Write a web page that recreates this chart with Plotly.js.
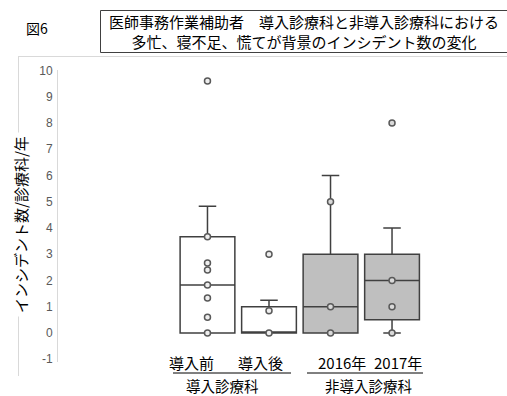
<!DOCTYPE html>
<html>
<head>
<meta charset="utf-8">
<script src="https://cdn.plot.ly/plotly-3.0.1.min.js"></script>
<style>html,body{margin:0;padding:0;background:#fff;}#chart{width:507px;height:396px;}</style>
</head>
<body>
<div id="chart"></div>
<script>
// ---- data ----
const categories = ['導入前', '導入後', '2016年', '2017年'];
const groupLabels = ['導入診療科', '非導入診療科'];
const q1 = [0, 0, 0, 0.5];
const median = [1.83, 0, 1, 2];
const q3 = [3.67, 1, 3, 3];
const lowerFence = [0, 0, 0, 0];
const upperFence = [4.83, 1.25, 6, 4];
const pointsPre = [9.6, 3.67, 2.67, 2.4, 1.83, 1.33, 0.6, 0];
const pointsPost = [3, 0.85, 0];
const points2016 = [5, 1, 0];
const points2017 = [8, 2, 1, 0];
const yTicks = [-1, 0, 1, 2, 3, 4, 5, 6, 7, 8, 9, 10];

// ---- layout helpers (pixel -> paper) ----
const W = 507, H = 396;
const mL = 58, mR = 27, mT = 70, mB = 34;
const pw = W - mL - mR, ph = H - mT - mB;
const px = x => (x - mL) / pw;
const py = y => (H - mB - y) / ph;

const JP = "'Noto Sans CJK JP', 'Noto Sans', sans-serif";
const NUM = "'Liberation Sans', Arial, sans-serif";

const boxLine = {color: '#404040', width: 1.5};
const markerStyle = fill => ({symbol: 'circle', size: 6, color: fill, line: {color: '#595959', width: 1.5}});

const traces = [
  {
    type: 'box', x: categories.slice(0, 2),
    q1: q1.slice(0, 2), median: median.slice(0, 2), q3: q3.slice(0, 2),
    lowerfence: lowerFence.slice(0, 2), upperfence: upperFence.slice(0, 2),
    fillcolor: '#ffffff', line: boxLine, width: 0.89, whiskerwidth: 0.32,
    boxpoints: false, showlegend: false, hoverinfo: 'skip'
  },
  {
    type: 'box', x: categories.slice(2, 4),
    q1: q1.slice(2, 4), median: median.slice(2, 4), q3: q3.slice(2, 4),
    lowerfence: lowerFence.slice(2, 4), upperfence: upperFence.slice(2, 4),
    fillcolor: '#bfbfbf', line: boxLine, width: 0.89, whiskerwidth: 0.32,
    boxpoints: false, showlegend: false, hoverinfo: 'skip'
  },
  {type: 'scatter', mode: 'markers', x: pointsPre.map(() => categories[0]), y: pointsPre,
   marker: markerStyle('#eeeeee'), showlegend: false, cliponaxis: false},
  {type: 'scatter', mode: 'markers', x: pointsPost.map(() => categories[1]), y: pointsPost,
   marker: markerStyle('#eeeeee'), showlegend: false, cliponaxis: false},
  {type: 'scatter', mode: 'markers', x: points2016.map(() => categories[2]), y: points2016,
   marker: markerStyle('#d9d9d9'), showlegend: false, cliponaxis: false},
  {type: 'scatter', mode: 'markers', x: points2017.map(() => categories[3]), y: points2017,
   marker: markerStyle('#d9d9d9'), showlegend: false, cliponaxis: false}
];

const catShift = [-16, -9, 11, 6];
const annotations = [
  {text: '図6', xref: 'paper', yref: 'paper', x: px(37), y: py(28), showarrow: false,
   font: {family: JP, size: 14, color: '#000'}, xanchor: 'center', yanchor: 'middle'},
  {text: '医師事務作業補助者　導入診療科と非導入診療科における<br>多忙、寝不足、慌てが背景のインシデント数の変化',
   xref: 'paper', yref: 'paper', x: px(304), y: py(32), showarrow: false,
   font: {family: JP, size: 15, color: '#000'}, xanchor: 'center', yanchor: 'middle', align: 'center'},
  {text: 'インシデント数/診療科/年', xref: 'paper', yref: 'paper', x: px(20), y: py(225),
   textangle: -90, showarrow: false, bgcolor: '#ffffff', borderpad: 3,
   font: {family: JP, size: 15, color: '#000'}, xanchor: 'center', yanchor: 'middle'}
];
categories.forEach((c, i) => annotations.push({
  text: c, xref: 'x', yref: 'paper', x: c, y: py(362), xshift: catShift[i], showarrow: false,
  font: {family: JP, size: 15, color: '#000'}, xanchor: 'center', yanchor: 'middle'
}));
annotations.push({text: groupLabels[0], xref: 'paper', yref: 'paper', x: px(222), y: py(386), showarrow: false,
  font: {family: JP, size: 14.5, color: '#000'}, xanchor: 'center', yanchor: 'middle', borderpad: 0});
annotations.push({text: groupLabels[1], xref: 'paper', yref: 'paper', x: px(368), y: py(386), showarrow: false,
  font: {family: JP, size: 14.5, color: '#000'}, xanchor: 'center', yanchor: 'middle', borderpad: 0});

const shapes = [
  // chart area border (top & left)
  {type: 'line', xref: 'paper', yref: 'paper', x0: px(18), x1: px(510), y0: py(56.5), y1: py(56.5), line: {color: '#d9d9d9', width: 1}},
  {type: 'line', xref: 'paper', yref: 'paper', x0: px(18.5), x1: px(18.5), y0: py(56.5), y1: py(376), line: {color: '#d9d9d9', width: 1}},
  // title box
  {type: 'rect', xref: 'paper', yref: 'paper', x0: px(100.5), x1: px(512), y0: py(10.5), y1: py(52.5), line: {color: '#404040', width: 1}, fillcolor: '#ffffff', layer: 'below'},
  // group underlines
  {type: 'line', xref: 'paper', yref: 'paper', x0: px(173), x1: px(291), y0: py(373), y1: py(373), line: {color: '#000', width: 1}},
  {type: 'line', xref: 'paper', yref: 'paper', x0: px(307), x1: px(423), y0: py(373), y1: py(373), line: {color: '#000', width: 1}}
];

const layout = {
  width: W, height: H,
  margin: {l: mL, r: mR, t: mT, b: mB},
  paper_bgcolor: '#ffffff', plot_bgcolor: '#ffffff',
  showlegend: false, boxmode: 'overlay',
  xaxis: {type: 'category', categoryorder: 'array', categoryarray: categories,
          range: [-2.43, 4.43], showticklabels: false, showline: false, showgrid: false, zeroline: false, ticks: ''},
  yaxis: {range: [-1.105, 10.02], tickvals: yTicks, ticktext: yTicks.map(String),
          showgrid: false, zeroline: false, showline: true, linecolor: '#d9d9d9', linewidth: 1,
          ticks: '', ticklabelstandoff: 2, tickfont: {family: NUM, size: 12, color: '#595959'}},
  annotations: annotations, shapes: shapes
};

Plotly.newPlot('chart', traces, layout, {staticPlot: true, displayModeBar: false});
</script>
</body>
</html>
